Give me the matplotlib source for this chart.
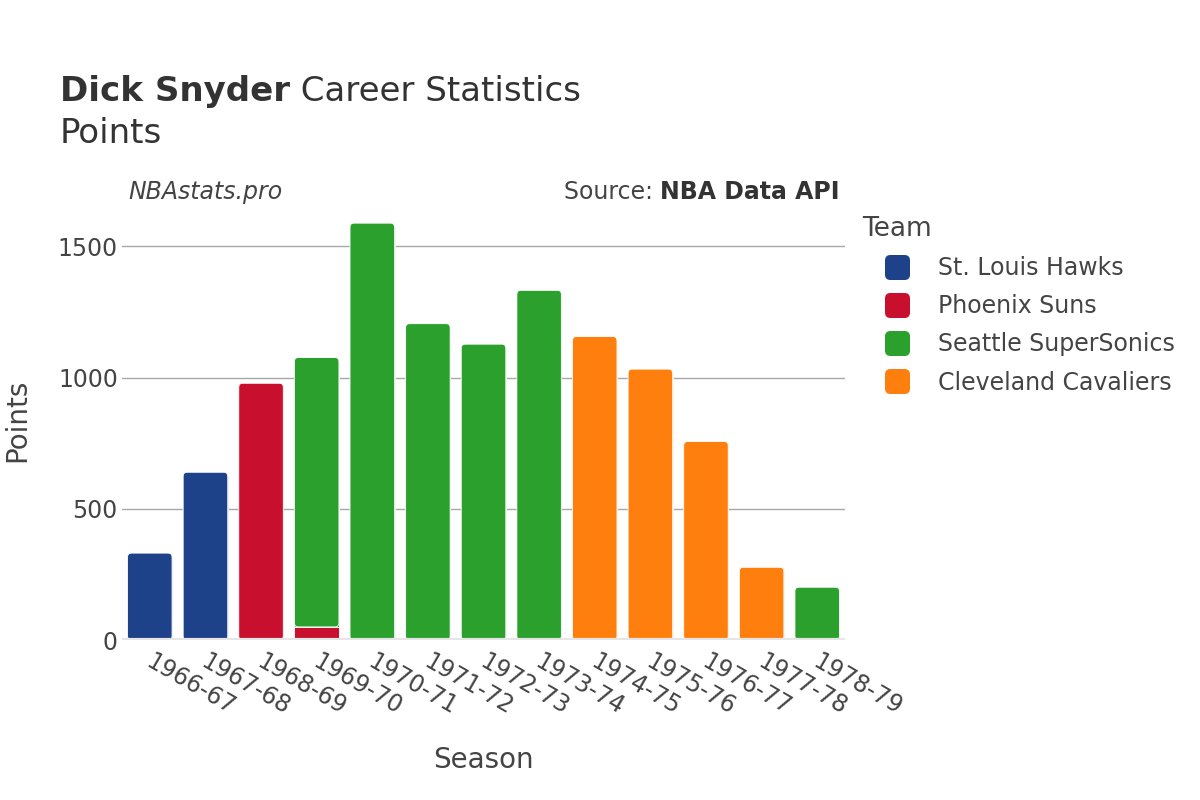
import numpy as np
import matplotlib
matplotlib.use('Agg')
from matplotlib import pyplot as plt
from matplotlib.patches import FancyBboxPatch
from matplotlib.lines import Line2D
from matplotlib.transforms import ScaledTranslation

seasons = ['1966-67', '1967-68', '1968-69', '1969-70', '1970-71', '1971-72', '1972-73',
           '1973-74', '1974-75', '1975-76', '1976-77', '1977-78', '1978-79']
teams = ['St. Louis Hawks', 'Phoenix Suns', 'Seattle SuperSonics', 'Cleveland Cavaliers']
hawks = [331, 639, 0, 0, 0, 0, 0, 0, 0, 0, 0, 0, 0]
suns = [0, 0, 978, 50, 0, 0, 0, 0, 0, 0, 0, 0, 0]
sonics = [0, 0, 0, 1026, 1588, 1205, 1127, 1332, 0, 0, 0, 0, 201]
cavs = [0, 0, 0, 0, 0, 0, 0, 0, 1156, 1032, 756, 277, 0]
colors = ['#1d428a', '#c8102e', '#2ca02c', '#ff7f0e']

txt = '#444444'
W, H = 1200, 800

def fx(px):
    return px / W

def fy(py):
    return 1 - py / H

fig = plt.figure(figsize=(12, 8), dpi=100)
ax = fig.add_axes([fx(122), fy(640), fx(845) - fx(122), fy(199) - fy(640)])

x = np.arange(len(seasons))
series = [hawks, suns, sonics, cavs]
width = 0.8
ymax = 1680
bottoms = np.zeros(len(seasons))
tops = np.array([sum(s[i] for s in series) for i in range(len(seasons))])

# radius of the rounded top corners, in data units
rx = 4 / ((845 - 122) / 13)
ry = 4 / ((640 - 199) / ymax)

for vals, col in zip(series, colors):
    vals = np.array(vals, dtype=float)
    for i in range(len(seasons)):
        if vals[i] <= 0:
            continue
        b = bottoms[i]
        h = vals[i]
        is_top = abs(b + h - tops[i]) < 1e-6
        if is_top and h > 2 * ry:
            ax.bar(x[i], h - ry, width, bottom=b, color=col, edgecolor='white', linewidth=0.6, zorder=2)
            p = FancyBboxPatch((x[i] - width / 2, b), width, h,
                               boxstyle='round,pad=0,rounding_size=%f' % rx,
                               mutation_aspect=ry / rx, facecolor=col,
                               edgecolor='white', linewidth=0.6, zorder=2.1)
            ax.add_patch(p)
        else:
            ax.bar(x[i], h, width, bottom=b, color=col, edgecolor='white', linewidth=0.6, zorder=2)
    bottoms += vals

ax.set_xlim(-0.5, len(seasons) - 0.5)
ax.set_ylim(0, ymax)
ax.set_yticks([0, 500, 1000, 1500])
ax.set_xticks(x)
ax.set_xticklabels(seasons)
ax.grid(axis='y', color='#a8a8a8', linewidth=1, zorder=0)
ax.set_axisbelow(True)
ax.axhline(0, color='#e6e6e6', linewidth=3, zorder=3)
for s in ax.spines.values():
    s.set_visible(False)
ax.tick_params(axis='both', length=0, labelsize=17, labelcolor=txt)
ax.tick_params(axis='y', pad=3)
ax.tick_params(axis='x', pad=14)
for lab in ax.get_xticklabels():
    lab.set_rotation(-30)
    lab.set_rotation_mode('anchor')
    lab.set_ha('left')
    lab.set_va('center')
    lab.set_transform(lab.get_transform() + ScaledTranslation(-0.02, 0, fig.dpi_scale_trans))

fig.text(fx(17), fy(420), 'Points', rotation=90, fontsize=20, color=txt, ha='center', va='center')
fig.text(fx(483), fy(760), 'Season', fontsize=20, color=txt, ha='center', va='center')

# title with bold name
fig.canvas.draw()
r = fig.canvas.get_renderer()
t1 = fig.text(fx(60), fy(101), 'Dick Snyder', fontsize=24.5, fontweight='bold', color='#333333', va='baseline')
bb = t1.get_window_extent(renderer=r)
fig.text(bb.x1 / W, fy(101), ' Career Statistics', fontsize=24.5, color='#333333', va='baseline')
fig.text(fx(60), fy(143), 'Points', fontsize=24.5, color='#333333', va='baseline')

fig.text(fx(128), fy(199), 'NBAstats.pro', fontsize=17, style='italic', color=txt, va='baseline')
t2 = fig.text(fx(840), fy(199), 'NBA Data API', fontsize=17, fontweight='bold', color='#333333',
              ha='right', va='baseline')
bb2 = t2.get_window_extent(renderer=r)
fig.text(bb2.x0 / W, fy(199), 'Source: ', fontsize=17, color=txt, ha='right', va='baseline')

# legend with rounded square markers
sq = FancyBboxPatch((-0.5, -0.5), 1, 1, boxstyle='round,pad=0,rounding_size=0.2').get_path()
handles = [Line2D([], [], marker=sq, linestyle='', markersize=17, color=c) for c in colors]
leg = fig.legend(handles, teams, loc='upper left', bbox_to_anchor=(fx(862), fy(216)),
                 frameon=False, fontsize=17, title='Team', title_fontsize=19,
                 alignment='left', borderpad=0, borderaxespad=0, handlelength=3.0,
                 handletextpad=0.22, labelspacing=0.6)
for t in leg.get_texts():
    t.set_color(txt)
leg.get_title().set_color(txt)

fig.savefig('out.png', dpi=100)
